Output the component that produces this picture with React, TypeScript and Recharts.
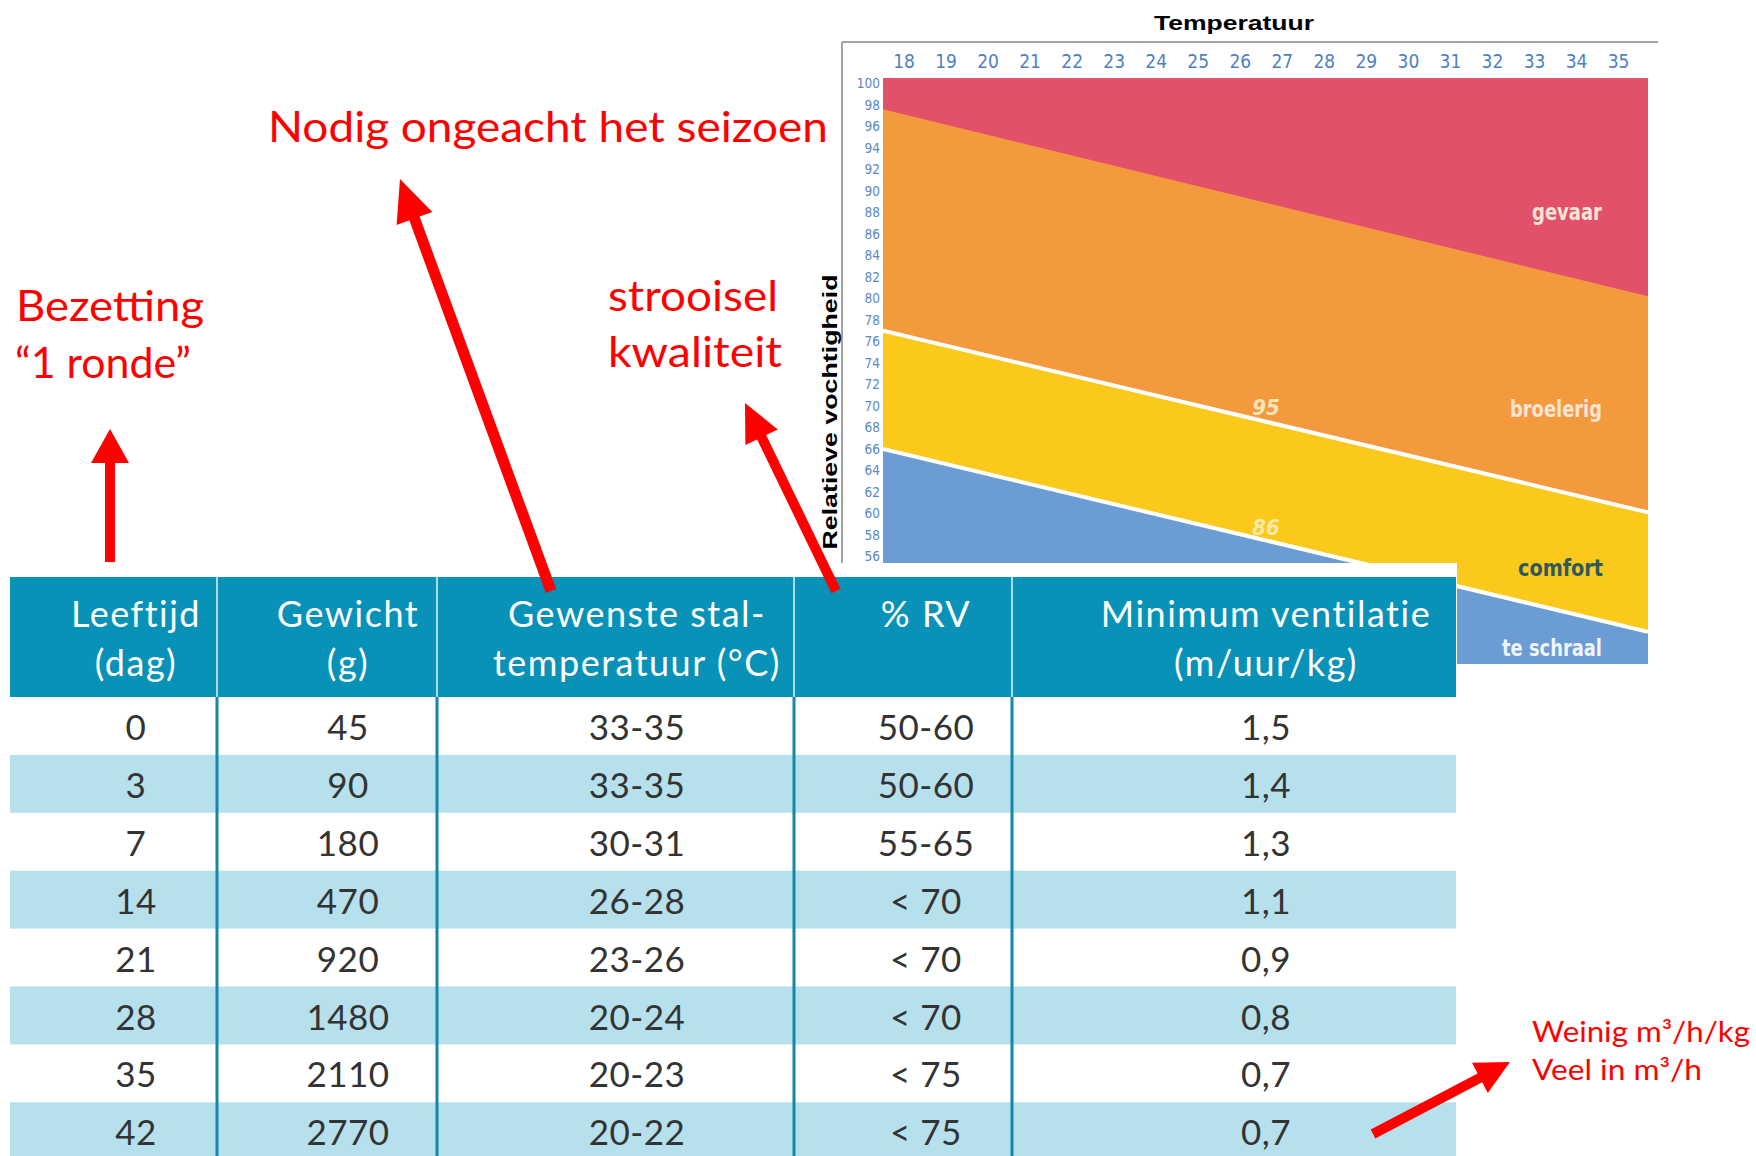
import React from "react";
import { ComposedChart, Area, XAxis, YAxis } from "recharts";

// zone boundaries, read at the left and right edge of the plot
const temperatures = [17.5, 35.7];
const gevaarTop = [100.5, 100.5];
const broelerigTop = [97.6, 80.2];
const comfortTop = [77.0, 60.1];
const schraalTop = [66.0, 49.0];

const tempTicks = [18, 19, 20, 21, 22, 23, 24, 25, 26, 27, 28, 29, 30, 31, 32, 33, 34, 35];
const rvTicks = [56, 58, 60, 62, 64, 66, 68, 70, 72, 74, 76, 78, 80, 82, 84, 86, 88, 90, 92, 94, 96, 98, 100];

// table
const headers = [
  ["Leeftijd", "(dag)"],
  ["Gewicht", "(g)"],
  ["Gewenste stal-", "temperatuur (°C)"],
  ["% RV"],
  ["Minimum ventilatie", "(m/uur/kg)"],
];
const leeftijd = ["0", "3", "7", "14", "21", "28", "35", "42"];
const gewicht = ["45", "90", "180", "470", "920", "1480", "2110", "2770"];
const stalTemp = ["33-35", "33-35", "30-31", "26-28", "23-26", "20-24", "20-23", "20-22"];
const relVocht = ["50-60", "50-60", "55-65", "< 70", "< 70", "< 70", "< 75", "< 75"];
const ventilatie = ["1,5", "1,4", "1,3", "1,1", "0,9", "0,8", "0,7", "0,7"];

const chartData = temperatures.map((t, i) => ({
  t,
  gevaar: gevaarTop[i],
  broelerig: broelerigTop[i],
  comfort: comfortTop[i],
  schraal: schraalTop[i],
}));

const NARROW = "'Liberation Sans Narrow', 'DejaVu Sans Condensed', 'Roboto Condensed', sans-serif";
const TABLE_FONT = "Lato, 'Open Sans', sans-serif";
const RED = "#ff0000";

// layout of the table
const colEdges = [10, 217, 437, 794, 1012, 1456];
const colCenters = [136, 348, 637, 926, 1266];
const headTop = 577;
const headBottom = 697;
const rowH = 57.9;

function arrowPoints(x1: number, y1: number, x2: number, y2: number, w: number, L: number, h: number) {
  const dx = x2 - x1;
  const dy = y2 - y1;
  const len = Math.sqrt(dx * dx + dy * dy);
  const ux = dx / len;
  const uy = dy / len;
  const nx = -uy;
  const ny = ux;
  const bx = x2 - ux * L;
  const by = y2 - uy * L;
  const p = [
    [x1 + (nx * w) / 2, y1 + (ny * w) / 2],
    [bx + (nx * w) / 2, by + (ny * w) / 2],
    [bx + nx * h, by + ny * h],
    [x2, y2],
    [bx - nx * h, by - ny * h],
    [bx - (nx * w) / 2, by - (ny * w) / 2],
    [x1 - (nx * w) / 2, y1 - (ny * w) / 2],
  ];
  return p.map((q) => q[0].toFixed(1) + "," + q[1].toFixed(1)).join(" ");
}

const HumidityChart = () => (
  <ComposedChart
    width={900}
    height={700}
    data={chartData}
    margin={{ top: 48, right: 32, bottom: 36, left: 63 }}
  >
    <XAxis
      dataKey="t"
      type="number"
      orientation="top"
      domain={[17.5, 35.7]}
      allowDataOverflow
      ticks={tempTicks}
      interval={0}
      height={30}
      axisLine={false}
      tickLine={false}
      tickSize={0}
      tickMargin={10}
      tick={{ fill: "#4f7fbf", fontSize: 19, fontFamily: NARROW }}
    />
    <YAxis
      type="number"
      domain={[46, 100.5]}
      allowDataOverflow
      ticks={rvTicks}
      interval={0}
      width={40}
      axisLine={false}
      tickLine={false}
      tickSize={0}
      tickMargin={3}
      tick={{ fill: "#5a87c5", fontSize: 13.5, fontFamily: NARROW }}
    />
    <Area type="linear" dataKey="gevaar" fill="#e2506a" fillOpacity={1} stroke="none" isAnimationActive={false} />
    <Area type="linear" dataKey="broelerig" fill="#f29a3d" fillOpacity={1} stroke="none" isAnimationActive={false} />
    <Area type="linear" dataKey="comfort" fill="#fbc91b" fillOpacity={1} stroke="#ffffff" strokeWidth={4} isAnimationActive={false} />
    <Area type="linear" dataKey="schraal" fill="#6b9cd3" fillOpacity={1} stroke="#ffffff" strokeWidth={4} isAnimationActive={false} />
  </ComposedChart>
);

const Overlay = () => {
  const rows = leeftijd.map((_, i) => [leeftijd[i], gewicht[i], stalTemp[i], relVocht[i], ventilatie[i]]);
  return (
    <svg width={1756} height={1156} style={{ position: "absolute", left: 0, top: 0 }}>
      {/* chart frame and texts */}
      <line x1={842} y1={42} x2={1658} y2={42} stroke="#a3a3a3" strokeWidth={2} />
      <line x1={842} y1={42} x2={842} y2={563} stroke="#a3a3a3" strokeWidth={2} />
      <text x={1234} y={30} textAnchor="middle" fontFamily="'Liberation Sans', Arial, sans-serif" fontWeight="bold" fontSize={20} textLength={160} lengthAdjust="spacingAndGlyphs">
        Temperatuur
      </text>
      <text
        x={0}
        y={0}
        transform="translate(837,412) rotate(-90)"
        textAnchor="middle"
        fontFamily="'Liberation Sans', Arial, sans-serif"
        fontWeight="bold"
        fontSize={20}
        textLength={275}
        lengthAdjust="spacingAndGlyphs"
      >
        Relatieve vochtigheid
      </text>
      <g fontFamily={NARROW} fontWeight="bold" fontSize={23} textAnchor="end">
        <text x={1602} y={220} fill="#fbe4d6" textLength={70} lengthAdjust="spacingAndGlyphs">gevaar</text>
        <text x={1602} y={417} fill="#fbe4d6" textLength={92} lengthAdjust="spacingAndGlyphs">broelerig</text>
        <text x={1603} y={576} fill="#2f5a5a" textLength={85} lengthAdjust="spacingAndGlyphs">comfort</text>
        <text x={1602} y={656} fill="#f1f4fb" textLength={100} lengthAdjust="spacingAndGlyphs">te schraal</text>
      </g>
      <g fontFamily={NARROW} fontWeight="bold" fontStyle="italic" fontSize={22} textAnchor="middle">
        <text x={1266} y={415} fill="#fde3b8">95</text>
        <text x={1266} y={535} fill="#fbe9a8">86</text>
      </g>

      {/* table */}
      <rect x={0} y={563} width={1457} height={593} fill="#ffffff" />
      <rect x={colEdges[0]} y={headTop} width={colEdges[5] - colEdges[0]} height={headBottom - headTop} fill="#0892b7" />
      {rows.map((r, i) =>
        i % 2 === 1 ? (
          <rect key={"bg" + i} x={colEdges[0]} y={headBottom + i * rowH} width={colEdges[5] - colEdges[0]} height={rowH} fill="#b5e0ec" />
        ) : null
      )}
      {colEdges.slice(1, 5).map((x) => (
        <g key={"sep" + x}>
          <line x1={x} y1={headTop} x2={x} y2={headBottom} stroke="#a9dbe9" strokeWidth={2} />
          <line x1={x} y1={headBottom} x2={x} y2={1156} stroke="#1786ab" strokeWidth={3} />
        </g>
      ))}
      <g fontFamily={TABLE_FONT} fontSize={36} letterSpacing={1.5} fill="#ffffff" textAnchor="middle">
        {headers.map((h, c) =>
          h.map((line, k) => (
            <text key={"h" + c + k} x={colCenters[c]} y={627 + k * 49}>
              {line}
            </text>
          ))
        )}
      </g>
      <g fontFamily={TABLE_FONT} fontSize={35} letterSpacing={0.5} fill="#333333" textAnchor="middle">
        {rows.map((r, i) =>
          r.map((v, c) => (
            <text key={"c" + i + c} x={colCenters[c]} y={headBottom + i * rowH + 43}>
              {v}
            </text>
          ))
        )}
      </g>

      {/* red annotations */}
      <g fill={RED} fontFamily="Lato, 'Noto Sans', sans-serif" fontSize={43}>
        <text x={268} y={142} textLength={560} lengthAdjust="spacingAndGlyphs">Nodig ongeacht het seizoen</text>
        <text x={16} y={321} textLength={188} lengthAdjust="spacingAndGlyphs">Bezetting</text>
        <text x={15} y={378} textLength={176} lengthAdjust="spacingAndGlyphs">“1 ronde”</text>
        <text x={608} y={311} textLength={170} lengthAdjust="spacingAndGlyphs">strooisel</text>
        <text x={608} y={367} textLength={174} lengthAdjust="spacingAndGlyphs">kwaliteit</text>
      </g>
      <g fill={RED} fontFamily="Lato, 'Noto Sans', sans-serif" fontSize={28}>
        <text x={1532} y={1042} textLength={218} lengthAdjust="spacingAndGlyphs">Weinig m³/h/kg</text>
        <text x={1532} y={1080} textLength={170} lengthAdjust="spacingAndGlyphs">Veel in m³/h</text>
      </g>
      <g fill={RED}>
        <polygon points={arrowPoints(110, 562, 110, 429, 10, 34, 19)} />
        <polygon points={arrowPoints(551, 591, 400, 179, 11, 42, 19)} />
        <polygon points={arrowPoints(836, 591, 745, 403, 10, 38, 18)} />
        <polygon points={arrowPoints(1373, 1134, 1510, 1062, 10, 34, 17)} />
      </g>
    </svg>
  );
};

export default function App() {
  return (
    <div style={{ position: "absolute", left: 0, top: 0, width: 1756, height: 1156, overflow: "hidden", background: "#ffffff" }}>
      <div style={{ position: "absolute", left: 780, top: 0 }}>
        <HumidityChart />
      </div>
      <Overlay />
    </div>
  );
}
